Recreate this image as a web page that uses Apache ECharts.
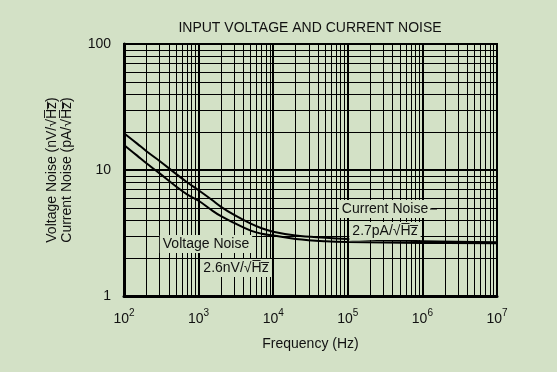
<!DOCTYPE html>
<html><head><meta charset="utf-8">
<script src="https://cdn.jsdelivr.net/npm/echarts@6/dist/echarts.min.js"></script>
<style>html,body{margin:0;padding:0;background:#D3E1C6;}#c{width:557px;height:372px;}</style>
</head><body><div id="c"></div>
<script>
// Frequency (Hz)
const freq = [100, 150, 200, 300, 500, 700, 1000, 1500, 2000, 3000, 5000, 7000, 10000, 20000, 50000, 100000, 1000000, 10000000];
// Current noise (pA/√Hz) — upper curve
const currentNoise = [19.6, 16.2, 14.1, 11.8, 9.3, 8.0, 6.9, 5.8, 5.1, 4.4, 3.75, 3.45, 3.24, 3.02, 2.9, 2.84, 2.72, 2.67];
// Voltage noise (nV/√Hz) — lower curve
const voltageNoise = [15.8, 13.0, 11.3, 9.4, 7.4, 6.4, 5.7, 4.8, 4.3, 3.8, 3.3, 3.12, 3.02, 2.84, 2.72, 2.68, 2.64, 2.62];
const xDecades = [100, 1000, 10000, 100000, 1000000, 10000000];
const yDecades = [1, 10, 100];
const minorSteps = [2, 3, 4, 5, 6, 7, 8, 9];

const FONT = '"Liberation Sans", Arial, sans-serif';
const BG = '#D3E1C6';
const minorX = [];
for (let i = 0; i < xDecades.length - 1; i++) minorSteps.forEach(m => minorX.push({xAxis: xDecades[i] * m}));
const minorY = [];
for (let i = 0; i < yDecades.length - 1; i++) minorSteps.forEach(m => minorY.push({yAxis: yDecades[i] * m}));

const chart = echarts.init(document.getElementById('c'), null, {renderer: 'canvas'});
const ov = 'H\u0305z\u0305';
chart.setOption({
  backgroundColor: BG,
  animation: false,
  title: {
    text: 'INPUT VOLTAGE AND CURRENT NOISE',
    left: 310, top: 21, padding: 0, textAlign: 'center',
    textStyle: {fontFamily: FONT, fontSize: 14, fontWeight: 'normal', color: '#111'}
  },
  grid: {left: 124, right: 60, top: 44, bottom: 76, show: true, borderColor: '#000', borderWidth: 2, backgroundColor: 'transparent'},
  xAxis: {
    type: 'log', logBase: 10, min: 100, max: 10000000,
    name: 'Frequency (Hz)', nameLocation: 'middle', nameGap: 41,
    nameTextStyle: {fontFamily: FONT, fontSize: 14, color: '#111'},
    axisLine: {show: true, lineStyle: {color: '#000', width: 3}},
    axisTick: {show: false},
    splitLine: {show: true, lineStyle: {color: '#000', width: 2}},
    axisLabel: {
      margin: 12, color: '#111',
      formatter: v => '{b|10}{s|' + Math.round(Math.log10(v)) + '}',
      rich: {
        b: {fontFamily: FONT, fontSize: 14, color: '#111', lineHeight: 18, verticalAlign: 'bottom'},
        s: {fontFamily: FONT, fontSize: 10, color: '#111', lineHeight: 18, verticalAlign: 'top'}
      }
    }
  },
  yAxis: {
    type: 'log', logBase: 10, min: 1, max: 100,
    name: 'Voltage Noise (nV/\u221A' + ov + ')\nCurrent Noise (pA/\u221A' + ov + ')',
    nameLocation: 'middle', nameGap: 49, nameRotate: 90,
    nameTextStyle: {fontFamily: FONT, fontSize: 14, color: '#111', lineHeight: 15},
    axisLine: {show: true, lineStyle: {color: '#000', width: 3}},
    axisTick: {show: false},
    splitLine: {show: true, lineStyle: {color: '#000', width: 2}},
    axisLabel: {margin: 13, fontFamily: FONT, fontSize: 14, color: '#111'}
  },
  series: [
    {
      type: 'line', name: 'grid', data: [[100, 1]], symbol: 'none', silent: true, z: 1,
      lineStyle: {width: 0},
      markLine: {
        silent: true, symbol: ['none', 'none'], animation: false,
        label: {show: false},
        lineStyle: {color: '#000', width: 1, type: 'solid'},
        emphasis: {disabled: true},
        data: minorX.concat(minorY)
      }
    },
    {
      type: 'line', name: 'Current Noise', data: freq.map((f, i) => [f, currentNoise[i]]),
      smooth: 0.4, symbol: 'none', z: 5, lineStyle: {color: '#000', width: 2}
    },
    {
      type: 'line', name: 'Voltage Noise', data: freq.map((f, i) => [f, voltageNoise[i]]),
      smooth: 0.4, symbol: 'none', z: 5, lineStyle: {color: '#000', width: 2}
    }
  ],
  graphic: [
    {type: 'text', x: 206, y: 244, z: 100, style: {text: 'Voltage Noise', fontFamily: FONT, fontSize: 14, fill: '#111', align: 'center', verticalAlign: 'middle', backgroundColor: BG, padding: [2, 3, 2, 3]}},
    {type: 'text', x: 236, y: 268, z: 100, style: {text: '2.6nV/\u221A' + ov, fontFamily: FONT, fontSize: 14, fill: '#111', align: 'center', verticalAlign: 'middle', backgroundColor: BG, padding: [2, 3, 2, 3]}},
    {type: 'text', x: 385, y: 209, z: 100, style: {text: 'Current Noise', fontFamily: FONT, fontSize: 14, fill: '#111', align: 'center', verticalAlign: 'middle', backgroundColor: BG, padding: [2, 3, 2, 3]}},
    {type: 'line', z: 100, shape: {x1: 430, y1: 209, x2: 437, y2: 209}, style: {stroke: '#000', lineWidth: 1}},
    {type: 'text', x: 385, y: 231, z: 100, style: {text: '2.7pA/\u221A' + ov, fontFamily: FONT, fontSize: 14, fill: '#111', align: 'center', verticalAlign: 'middle', backgroundColor: BG, padding: [2, 3, 2, 3]}}
  ]
});
</script></body></html>
